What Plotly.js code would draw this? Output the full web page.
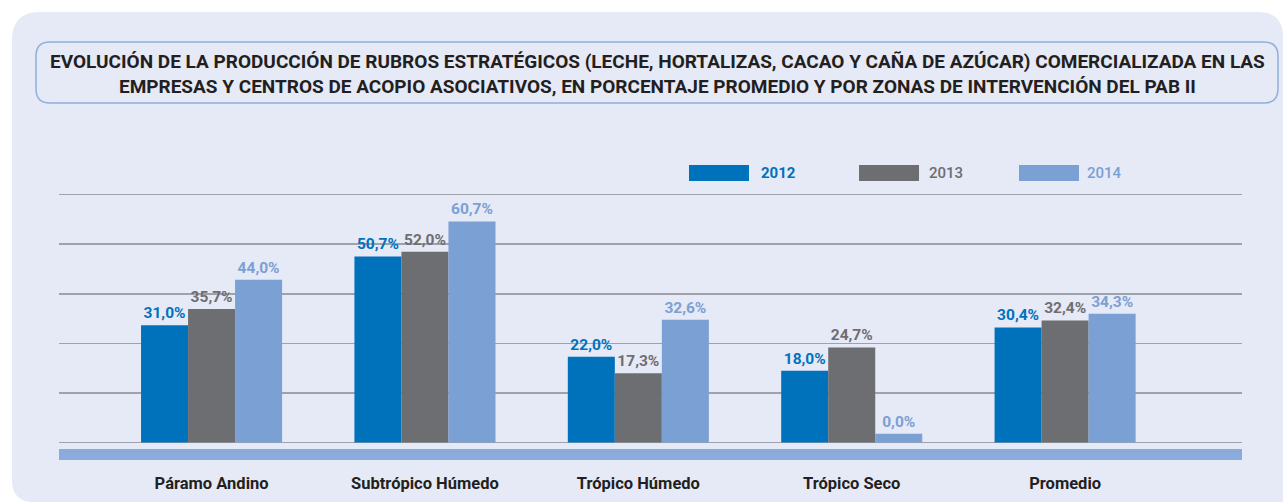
<!DOCTYPE html>
<html>
<head>
<meta charset="utf-8">
<script src="https://cdn.plot.ly/plotly-3.0.1.min.js"></script>
<style>html,body{margin:0;padding:0;background:#fff;}#chart{width:1283px;height:502px;}</style>
</head>
<body>
<div id="chart"></div>
<script>
// ---- data ----
const categories = ["Páramo Andino", "Subtrópico Húmedo", "Trópico Húmedo", "Trópico Seco", "Promedio"];
const seriesNames = ["2012", "2013", "2014"];
const values2012 = [31.0, 50.7, 22.0, 18.0, 30.4];
const values2013 = [35.7, 52.0, 17.3, 24.7, 32.4];
const values2014 = [44.0, 60.7, 32.6, 0.0, 34.3];
const titleLines = [
  "EVOLUCIÓN DE LA PRODUCCIÓN DE RUBROS ESTRATÉGICOS (LECHE, HORTALIZAS, CACAO Y CAÑA DE AZÚCAR) COMERCIALIZADA EN LAS",
  "EMPRESAS Y CENTROS DE ACOPIO ASOCIATIVOS, EN PORCENTAJE PROMEDIO Y POR ZONAS DE INTERVENCIÓN DEL PAB II"
];

// ---- style ----
const W = 1283, H = 502;
const FONT = 'Roboto, "DejaVu Sans Condensed", Arial, sans-serif';
const colors = ["#0072bc", "#6d6e71", "#7ba0d4"];
const seriesValues = [values2012, values2013, values2014];
const AXIS_FLOOR = -2.5;   // value axis starts slightly below zero, bars rise from the floor
const px = x => x / W;
const py = y => 1 - y / H;
const P = (x, y) => px(x) + ',' + py(y);

const traces = seriesValues.map((vals, i) => ({
  type: 'bar',
  name: seriesNames[i],
  x: categories,
  y: vals.map(v => v - AXIS_FLOOR),
  base: AXIS_FLOOR,
  customdata: vals,
  marker: {color: colors[i], line: {width: 0}},
  texttemplate: '%{customdata:.1f}%',
  textposition: 'outside',
  constraintext: 'none',
  cliponaxis: false,
  textfont: {family: FONT, size: 15.5, color: colors[i], weight: 'bold'},
  hoverinfo: 'skip',
  showlegend: false
}));

const shapes = [];
// background panel
shapes.push({
  type: 'path', xref: 'paper', yref: 'paper', layer: 'below',
  path: 'M' + P(12, 40) + ' Q' + P(12, 12) + ' ' + P(40, 12) +
        ' L' + P(1258, 12) + ' Q' + P(1283, 12) + ' ' + P(1283, 37) +
        ' L' + P(1283, 502) + ' L' + P(34, 502) + ' Q' + P(12, 502) + ' ' + P(12, 480) + ' Z',
  fillcolor: '#e6e9f6', line: {width: 0}
});
// title box
shapes.push({
  type: 'path', xref: 'paper', yref: 'paper', layer: 'below',
  path: 'M' + P(36, 56) + ' Q' + P(36, 42) + ' ' + P(50, 42) +
        ' L' + P(1264, 42) + ' Q' + P(1278, 42) + ' ' + P(1278, 56) +
        ' L' + P(1278, 89) + ' Q' + P(1278, 103) + ' ' + P(1264, 103) +
        ' L' + P(50, 103) + ' Q' + P(36, 103) + ' ' + P(36, 89) + ' Z',
  fillcolor: 'rgba(0,0,0,0)', line: {color: '#8fb0dd', width: 1.5}
});
// bottom band
shapes.push({
  type: 'rect', xref: 'paper', yref: 'paper', layer: 'below',
  x0: px(59), x1: px(1242), y0: py(460), y1: py(449),
  fillcolor: '#8aabdb', line: {width: 0}
});

// custom legend
const legendX = [689, 859, 1019];
const legendTextX = [759, 927, 1085];
const annotations = [];
seriesNames.forEach((n, i) => {
  shapes.push({
    type: 'rect', xref: 'paper', yref: 'paper',
    x0: px(legendX[i]), x1: px(legendX[i] + 60), y0: py(181), y1: py(165),
    fillcolor: colors[i], line: {width: 0}
  });
  annotations.push({
    xref: 'paper', yref: 'paper', x: px(legendTextX[i]), y: py(173),
    xanchor: 'left', yanchor: 'middle', showarrow: false, text: n,
    font: {family: FONT, size: 15, color: colors[i], weight: i === 0 ? 'bold' : 500}
  });
});
// title
annotations.push({
  xref: 'paper', yref: 'paper', x: px(657), y: py(74), xanchor: 'center', yanchor: 'middle',
  showarrow: false, align: 'center', text: titleLines.join('<br>'),
  font: {family: FONT, size: 19, color: '#231f20', weight: 'bold'}
});

const layout = {
  width: W, height: H,
  margin: {l: 0, r: 0, t: 0, b: 0, pad: 0},
  paper_bgcolor: '#ffffff',
  plot_bgcolor: 'rgba(0,0,0,0)',
  separators: ',.',
  barmode: 'group',
  bargap: 0.339,
  bargroupgap: 0,
  showlegend: false,
  font: {family: FONT},
  xaxis: {
    domain: [px(59), px(1242)],
    range: [-0.715, 4.829],
    type: 'category',
    showgrid: false, zeroline: false, showline: false, ticks: '',
    ticklabelstandoff: 27,
    tickfont: {family: FONT, size: 16.5, color: '#231f20', weight: 'bold'}
  },
  yaxis: {
    domain: [py(444.35), py(153.85)],
    range: [-3, 80],
    tick0: AXIS_FLOOR, dtick: 14.17,
    showgrid: true, gridcolor: '#a0a2ab', gridwidth: 1.6,
    zeroline: false, showline: false, showticklabels: false, ticks: ''
  },
  shapes: shapes,
  annotations: annotations
};

Plotly.newPlot('chart', traces, layout, {displayModeBar: false, staticPlot: true});
</script>
</body>
</html>
